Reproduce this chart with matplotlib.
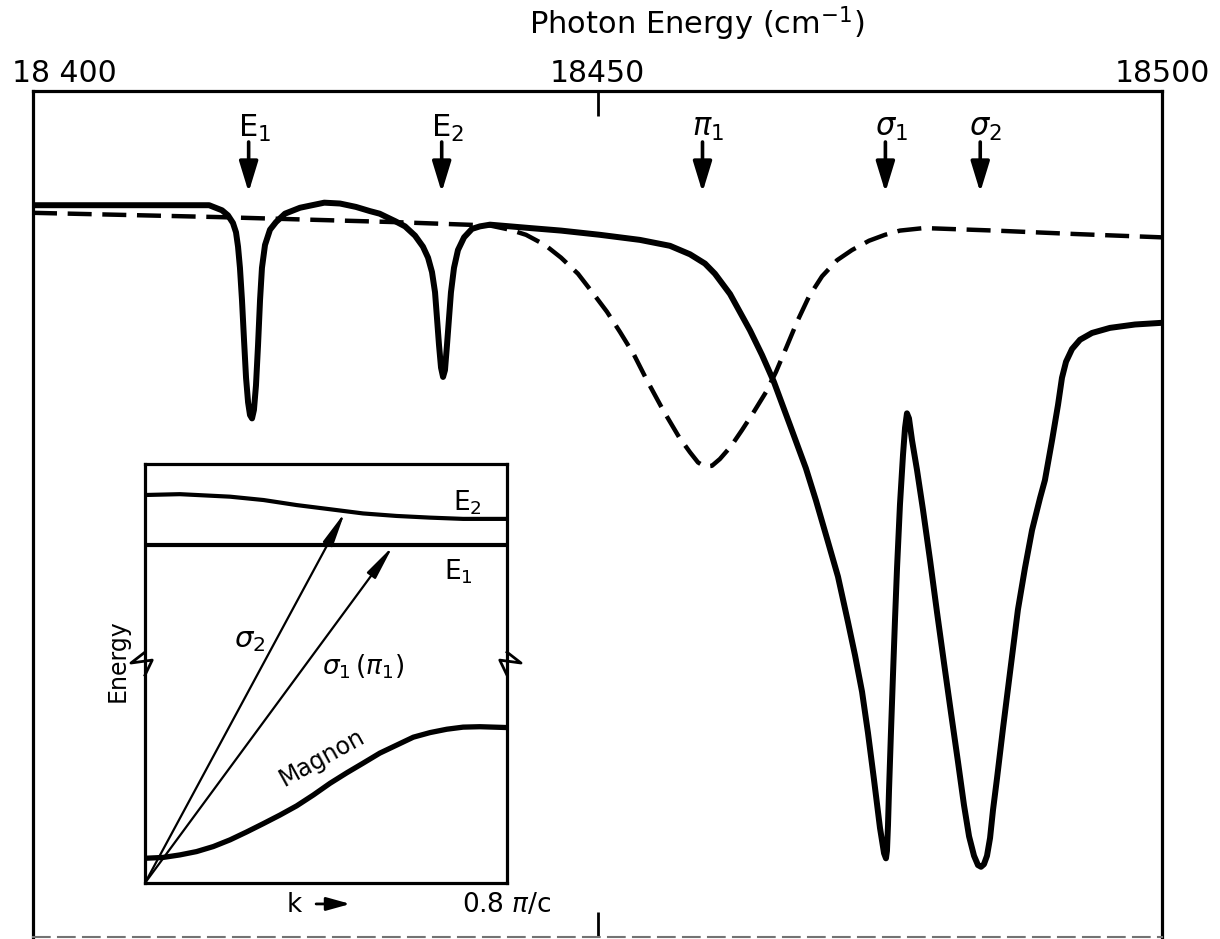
import numpy as np
import matplotlib.pyplot as plt

plt.rcParams['font.family'] = ['DejaVu Sans']
plt.rcParams['mathtext.fontset'] = 'dejavusans'

# spectrum, solid line (cm-1, relative transmission)
solid_nu = [18400.0, 18407.7, 18415.6, 18416.74, 18417.27, 18417.71, 18417.98, 18418.16,
            18418.33, 18418.51, 18418.69, 18418.87, 18419.05, 18419.22, 18419.40, 18419.57,
            18419.75, 18419.93, 18420.11, 18420.28, 18420.55, 18420.99, 18421.52, 18422.32,
            18423.65, 18425.8, 18427.19, 18428.6, 18429.85, 18430.7, 18432.1, 18432.95,
            18433.84, 18434.54, 18434.99, 18435.34, 18435.61, 18435.78, 18435.96, 18436.14,
            18436.32, 18436.49, 18436.67, 18436.85, 18437.02, 18437.29, 18437.64, 18438.18,
            18438.88, 18439.59, 18440.48, 18444.02, 18446.77, 18450.22, 18453.76, 18456.42,
            18458.19, 18459.52, 18460.40, 18461.74, 18463.51, 18464.57, 18465.63, 18467.05,
            18468.46, 18469.35, 18470.33, 18471.30, 18472.19, 18472.81, 18473.43, 18473.96,
            18474.49, 18475.02, 18475.38, 18475.55, 18475.64, 18475.73, 18475.82, 18475.99,
            18476.17, 18476.35, 18476.53, 18476.79, 18477.06, 18477.24, 18477.41, 18477.59,
            18477.86, 18478.30, 18478.83, 18479.45, 18480.07, 18480.69, 18481.31, 18481.93,
            18482.46, 18482.91, 18483.35, 18483.70, 18483.97, 18484.23, 18484.50, 18484.77,
            18485.03, 18485.39, 18485.92, 18486.54, 18487.24, 18487.86, 18488.49, 18489.20,
            18489.63, 18490.26, 18490.79, 18491.14, 18491.50, 18492.03, 18492.74, 18493.80,
            18495.39, 18497.61, 18500.0]
solid_T = [86.5, 86.5, 86.5, 85.9, 85.3, 84.4, 83.3, 81.6,
           79.1, 75.3, 70.6, 66.1, 63.2, 61.7, 61.3, 62.3,
           65.2, 69.9, 75.3, 79.1, 81.8, 83.6, 84.5, 85.5,
           86.2, 86.8, 86.7, 86.3, 85.8, 85.5, 84.6, 84.0,
           82.9, 81.6, 80.3, 78.6, 76.2, 73.2, 70.0, 67.3,
           66.2, 67.0, 70.0, 73.2, 76.2, 79.1, 81.2, 82.7,
           83.7, 84.0, 84.2, 83.8, 83.5, 83.0, 82.4, 81.7,
           80.7, 79.6, 78.4, 76.0, 71.7, 68.8, 65.6, 60.5,
           55.4, 51.6, 47.1, 42.6, 37.2, 33.3, 29.0, 24.1,
           18.6, 12.9, 9.9, 9.3, 10.2, 13.2, 17.3, 24.1,
           30.9, 37.5, 43.6, 51.1, 57.0, 60.2, 61.9, 61.3,
           58.7, 55.2, 50.5, 44.6, 38.4, 32.4, 26.5, 20.7,
           15.6, 11.9, 9.6, 8.5, 8.3, 8.6, 9.6, 11.7,
           15.0, 18.8, 24.7, 31.3, 38.7, 43.6, 48.1, 51.9,
           54.0, 58.7, 62.9, 66.1, 68.0, 69.5, 70.6, 71.4,
           72.0, 72.4, 72.6]

# spectrum, dashed line
dash_nu = [18400.0, 18416.3, 18432.1, 18440.48, 18442.25, 18443.67, 18445.35, 18446.77,
           18448.27, 18449.60, 18450.84, 18452.00, 18453.24, 18454.38, 18455.80, 18457.22,
           18458.19, 18458.90, 18459.52, 18460.14, 18460.84, 18461.82, 18462.79, 18463.86,
           18464.92, 18465.81, 18466.70, 18467.67, 18468.73, 18469.89, 18471.22, 18472.54,
           18474.05, 18475.46, 18476.79, 18478.92, 18485.21, 18492.20, 18500.0]
dash_T = [85.6, 85.1, 84.5, 84.1, 83.6, 83.0, 81.8, 80.3,
          78.4, 76.1, 73.9, 71.5, 68.8, 65.8, 62.3, 59.1,
          57.3, 56.1, 55.6, 55.7, 56.5, 58.0, 59.9, 62.1,
          64.4, 66.8, 69.6, 72.7, 75.7, 78.1, 80.0, 81.2,
          82.3, 83.0, 83.5, 83.8, 83.5, 83.1, 82.7]

# line assignments
line_names = [r'E$_1$', r'E$_2$', r'$\pi_1$', r'$\sigma_1$', r'$\sigma_2$']
line_nu = [18419.1, 18436.2, 18459.3, 18475.5, 18483.9]

top_ticks = [18400, 18450, 18500]

# inset: dispersion curves (k in units of pi/c, energy arbitrary)
e2_k = [0.0, 0.077, 0.188, 0.262, 0.335, 0.409, 0.482, 0.556, 0.630, 0.703, 0.8]
e2_E = [92.6, 92.8, 92.2, 91.4, 90.2, 89.2, 88.2, 87.6, 87.2, 86.9, 86.9]
e1_k = [0.0, 0.8]
e1_E = [80.7, 80.7]
mag_k = [0.0, 0.040, 0.077, 0.114, 0.151, 0.188, 0.225, 0.262, 0.298, 0.335, 0.372,
         0.409, 0.446, 0.482, 0.519, 0.556, 0.593, 0.630, 0.667, 0.703, 0.740, 0.8]
mag_E = [5.9, 6.1, 6.7, 7.5, 8.7, 10.3, 12.2, 14.2, 16.2, 18.4, 21.0,
         23.8, 26.3, 28.6, 31.0, 32.9, 34.8, 35.9, 36.7, 37.2, 37.3, 37.1]
sig2_end = (0.442, 88.5)
sig1_end = (0.548, 80.4)
break_E = 52.5

fig = plt.figure(figsize=(12.2, 9.39), dpi=100)
ax = fig.add_axes([0.02705, 0.00213, 0.92541, 0.90096])

ax.plot(solid_nu, solid_T, color='k', lw=4.3, solid_joinstyle='round', solid_capstyle='round')
ax.plot(dash_nu, dash_T, color='k', lw=3.2, linestyle=(0, (5.4, 2.4)))
ax.set_xlim(18400, 18500)
ax.set_ylim(0, 100)
ax.set_yticks([])
ax.set_xticks([18450])
ax.tick_params(axis='x', direction='in', length=18, width=2, top=True, bottom=True,
               labelbottom=False, labeltop=False)
for s in ['top', 'left', 'right']:
    ax.spines[s].set_linewidth(2.3)
ax.spines['bottom'].set_linewidth(1.5)
ax.spines['bottom'].set_color('0.45')
ax.spines['bottom'].set_linestyle((0, (8, 4)))

xt = ax.get_xaxis_transform()
ax.text(18398.1, 1.021, '18 400', transform=xt, ha='left', va='center', fontsize=21.5, clip_on=False)
for v in top_ticks[1:]:
    ax.text(v, 1.021, str(v), transform=xt, ha='center', va='center', fontsize=21.5, clip_on=False)
fig.text(0.571, 1 - 24 / 939, 'Photon Energy (cm$^{-1}$)', ha='center', va='center', fontsize=22)

for name, nu in zip(line_names, line_nu):
    ax.annotate('', xy=(nu, 87.7), xytext=(nu, 94.3),
                arrowprops=dict(arrowstyle='-|>,head_length=0.85,head_width=0.26',
                                color='k', lw=2.6, mutation_scale=22))
    ax.text(nu + 0.5, 95.6, name, ha='center', va='center', fontsize=22)

# inset
ins = fig.add_axes([0.11885, 0.05964, 0.29672, 0.44622])
ins.set_xlim(0, 0.8)
ins.set_ylim(0, 100)
ins.set_xticks([])
ins.set_yticks([])
for s in ins.spines.values():
    s.set_linewidth(2.3)

ins.plot(e2_k, e2_E, color='k', lw=3.0, solid_capstyle='butt')
ins.plot(e1_k, e1_E, color='k', lw=3.0, solid_capstyle='butt')
ins.plot(mag_k, mag_E, color='k', lw=3.8, solid_capstyle='butt')
for end in [sig2_end, sig1_end]:
    ins.annotate('', xy=end, xytext=(0, 0),
                 arrowprops=dict(arrowstyle='-|>,head_length=1.3,head_width=0.2',
                                 color='k', lw=1.6, mutation_scale=16, shrinkA=0, shrinkB=0))

ins.text(0.712, 90.7, r'E$_2$', ha='center', va='center', fontsize=19)
ins.text(0.692, 74.2, r'E$_1$', ha='center', va='center', fontsize=19)
ins.text(0.232, 58.0, r'$\sigma_2$', ha='center', va='center', fontsize=21)
ins.text(0.482, 51.6, r'$\sigma_1\,(\pi_1)$', ha='center', va='center', fontsize=19)
ins.text(0.39, 29.8, 'Magnon', ha='center', va='center', fontsize=17, rotation=29)
ins.text(-0.06, 53, 'Energy', ha='center', va='center', fontsize=17, rotation=90, clip_on=False)
ins.text(0.33, -5.3, 'k', ha='center', va='center', fontsize=19, clip_on=False)
ins.annotate('', xy=(0.46, -5.0), xytext=(0.372, -5.0), annotation_clip=False,
             arrowprops=dict(arrowstyle='-|>,head_length=0.9,head_width=0.25',
                             color='k', lw=2.0, mutation_scale=16))
ins.text(0.8, -5.3, r'0.8 $\pi$/c', ha='center', va='center', fontsize=19, clip_on=False)

# axis breaks on the inset energy axis
for x0, sgn in [(0.0, 1), (0.8, -1)]:
    zx = [x0, x0 - 0.031 * sgn, x0 + 0.016 * sgn, x0]
    zy = [break_E + 2.6, break_E, break_E + 0.7, break_E - 2.9]
    ins.plot(zx, zy, color='k', lw=2.0, clip_on=False)

fig.savefig('out.png', dpi=100)
